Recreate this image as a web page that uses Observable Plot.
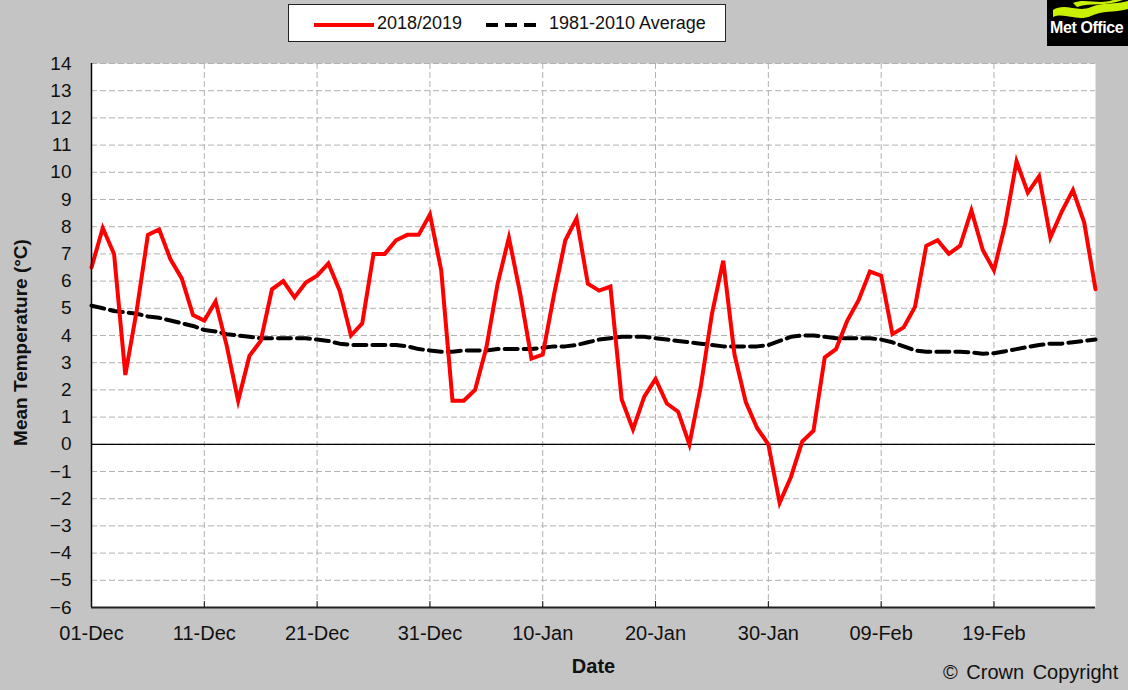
<!DOCTYPE html>
<html>
<head>
<meta charset="utf-8">
<script src="https://cdn.jsdelivr.net/npm/d3@7"></script>
<script src="https://cdn.jsdelivr.net/npm/@observablehq/plot@0.6"></script>
<style>
  body { margin: 0; background: #c4c4c4; font-family: Arial, "Liberation Sans", sans-serif; }
  #wrap { position: relative; width: 1128px; height: 690px; overflow: hidden; background: #c4c4c4; }
  #chart { position: absolute; left: 0; top: 0; }
  #legend { position: absolute; left: 288px; top: 4px; width: 438px; height: 38px; background: #fff;
            border: 1.5px solid #222; box-sizing: border-box; }
  #legend svg { position: absolute; left: 0; top: 0; }
  #legend span { position: absolute; top: 7px; font-size: 18px; line-height: 22px; color: #111; white-space: nowrap; }
  #logo { position: absolute; left: 1047px; top: 0; width: 81px; height: 46px; background: #000; overflow: hidden; }
  #logo span { position: absolute; left: 3px; top: 19px; color: #fff; font-weight: bold; font-size: 16px; line-height: 18px; white-space: nowrap; letter-spacing: -0.4px; }
  #copy { position: absolute; left: 943px; top: 660px; font-size: 20px; line-height: 24px; color: #111; white-space: nowrap; word-spacing: 3px; }
</style>
</head>
<body>
<div id="wrap">
  <div id="chart"></div>
  <div id="legend">
    <svg width="438" height="38">
      <line x1="25" x2="85" y1="20" y2="20" stroke="#ff0000" stroke-width="4"/>
      <line x1="197" x2="250" y1="20" y2="20" stroke="#000" stroke-width="4" stroke-dasharray="12,7"/>
    </svg>
    <span id="lg1" style="left:88px">2018/2019</span>
    <span id="lg2" style="left:260px">1981-2010 Average</span>
  </div>
  <div id="logo">
    <svg width="81" height="46">
      <path d="M6,10 C18,2 30,13 44,7 C56,2 66,5 81,1 L81,9 C66,13 56,10 44,16 C30,22 18,12 6,17 Z" fill="#c8f000"/>
      <path d="M26,3 C38,-2 52,5 66,0 L76,0 C58,7 44,2 30,7 Z" fill="#c8f000"/>
    </svg>
    <span>Met Office</span>
  </div>
  <div id="copy">© Crown Copyright</div>
</div>
<script>
// Daily mean temperature, 1 Dec 2018 .. 28 Feb 2019 (one value per day)
const startDate = new Date(Date.UTC(2018, 11, 1));
const endDate = new Date(Date.UTC(2019, 2, 1)); // exclusive
const series2018 = [
  6.5, 7.95, 7.0, 2.55, 4.9, 7.7, 7.9, 6.8, 6.1, 4.75,
  4.55, 5.25, 3.6, 1.6, 3.25, 3.8, 5.7, 6.0, 5.4, 5.95,
  6.2, 6.65, 5.65, 4.0, 4.45, 7.0, 7.0, 7.5, 7.7, 7.7,
  8.45, 6.4, 1.6, 1.6, 2.0, 3.55, 5.9, 7.6, 5.55, 3.15,
  3.3, 5.5, 7.5, 8.3, 5.9, 5.65, 5.8, 1.65, 0.55, 1.75,
  2.4, 1.5, 1.2, 0.0, 2.1, 4.8, 6.75, 3.3, 1.55, 0.6,
  0.0, -2.15, -1.2, 0.1, 0.5, 3.2, 3.5, 4.55, 5.3, 6.35,
  6.2, 4.05, 4.3, 5.05, 7.3, 7.5, 7.0, 7.3, 8.6, 7.15,
  6.4, 8.1, 10.4, 9.25, 9.85, 7.6, 8.55, 9.35, 8.15, 5.7
];
const seriesAvg = [
  5.1, 5.0, 4.9, 4.85, 4.8, 4.7, 4.65, 4.55, 4.45, 4.35,
  4.2, 4.15, 4.05, 4.0, 3.95, 3.9, 3.9, 3.9, 3.9, 3.9,
  3.85, 3.8, 3.7, 3.65, 3.65, 3.65, 3.65, 3.65, 3.6, 3.5,
  3.45, 3.4, 3.4, 3.45, 3.45, 3.45, 3.5, 3.5, 3.5, 3.5,
  3.55, 3.6, 3.6, 3.65, 3.75, 3.85, 3.9, 3.95, 3.95, 3.95,
  3.9, 3.85, 3.8, 3.75, 3.7, 3.65, 3.6, 3.6, 3.6, 3.6,
  3.65, 3.8, 3.95, 4.0, 4.0, 3.95, 3.9, 3.9, 3.9, 3.9,
  3.85, 3.75, 3.6, 3.45, 3.4, 3.4, 3.4, 3.4, 3.38, 3.33,
  3.35, 3.42, 3.5, 3.58, 3.65, 3.7, 3.7, 3.75, 3.8, 3.85
];
const yTicks = [-6,-5,-4,-3,-2,-1,0,1,2,3,4,5,6,7,8,9,10,11,12,13,14];
const xTickLabels = ["01-Dec","11-Dec","21-Dec","31-Dec","10-Jan","20-Jan","30-Jan","09-Feb","19-Feb"];

const dates = d3.utcDay.range(startDate, endDate);
const rows = dates.map((d, i) => ({date: d, t: series2018[i], a: seriesAvg[i]}));
const fmt = d3.utcFormat("%d-%b");
const tickDates = dates.filter(d => xTickLabels.includes(fmt(d)));

const chart = Plot.plot({
  width: 1128,
  height: 690,
  marginLeft: 91,
  marginRight: 33,
  marginTop: 63,
  marginBottom: 83,
  style: {background: "transparent", fontFamily: "Arial, 'Liberation Sans', sans-serif", color: "#111"},
  x: {type: "utc", domain: [dates[0], dates[dates.length - 1]]},
  y: {domain: [-6, 14]},
  marks: [
    Plot.frame({fill: "white", stroke: null}),
    Plot.gridY(yTicks, {stroke: "#b0b0b0", strokeOpacity: 1, strokeDasharray: "6,3"}),
    Plot.gridX(tickDates, {stroke: "#b0b0b0", strokeOpacity: 1, strokeDasharray: "6,3"}),
    Plot.ruleY([0], {stroke: "#000", strokeWidth: 1.2}),
    Plot.line(rows, {x: "date", y: "a", stroke: "#000", strokeWidth: 4, strokeDasharray: "13,6"}),
    Plot.line(rows, {x: "date", y: "t", stroke: "#ff0000", strokeWidth: 4, strokeLinejoin: "miter", strokeMiterlimit: 6}),
    Plot.ruleX([dates[0]], {stroke: "#000", strokeWidth: 1.5}),
    Plot.ruleY([-6], {stroke: "#222", strokeWidth: 2}),
    Plot.axisY({ticks: yTicks, tickSize: 0, tickPadding: 20, fontSize: 19, label: null}),
    Plot.axisX({ticks: tickDates, tickFormat: fmt, tickSize: -6, tickPadding: 24, fontSize: 20, label: null}),
    Plot.text(["Mean Temperature (°C)"], {frameAnchor: "left", dx: -71, dy: 7, rotate: -90, textAnchor: "middle", lineAnchor: "middle", fontWeight: "bold", fontSize: 19}),
    Plot.text(["Date"], {frameAnchor: "bottom", dy: 59, textAnchor: "middle", lineAnchor: "middle", fontWeight: "bold", fontSize: 20})
  ]
});
document.getElementById("chart").appendChild(chart);
</script>
</body>
</html>
